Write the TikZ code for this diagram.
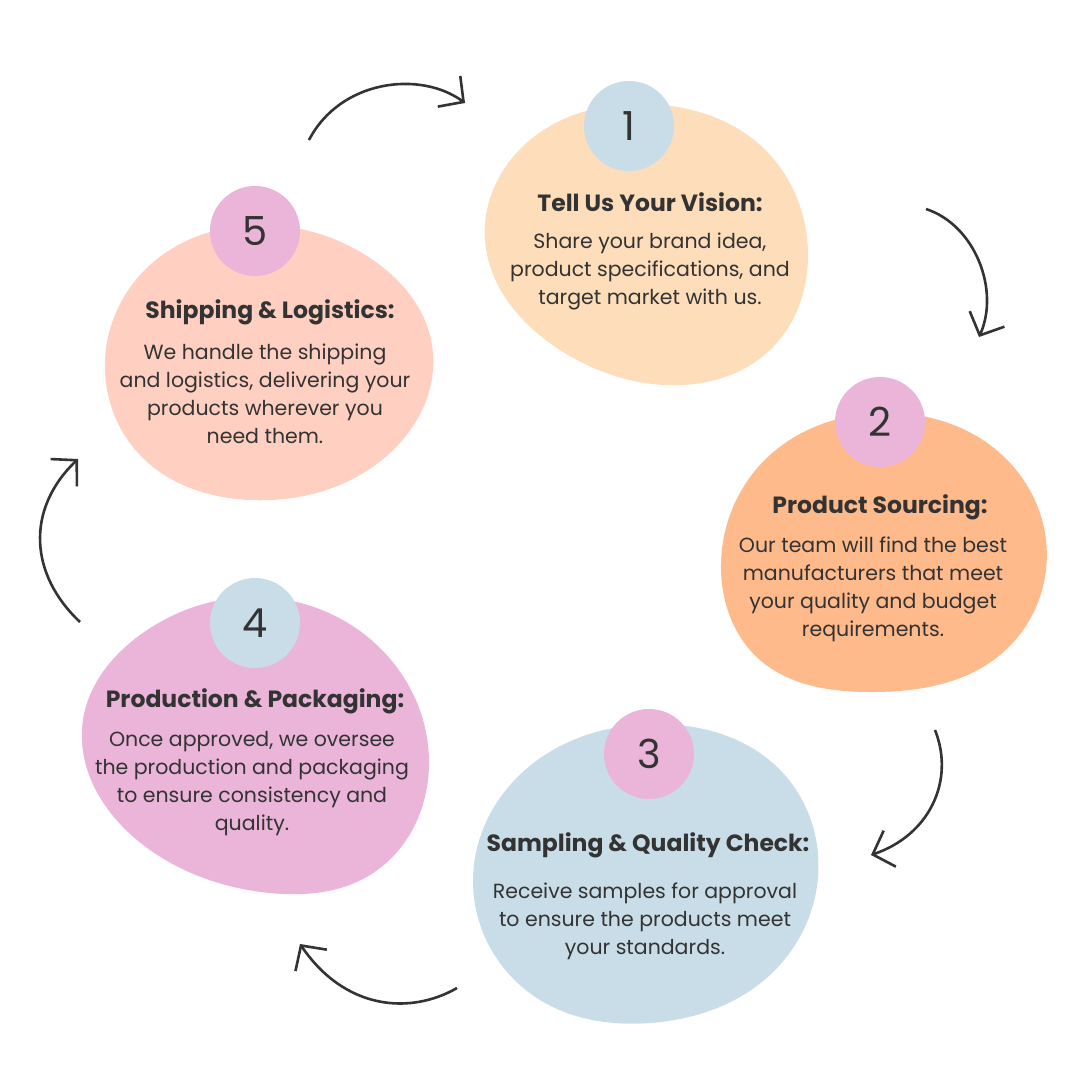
\documentclass[tikz,border=0pt]{standalone}
\usepackage{fontspec}
\setmainfont{Poppins}
\usetikzlibrary{arrows.meta,hobby}
\definecolor{ink}{HTML}{333333}
\definecolor{peach}{HTML}{FDDDBA}
\definecolor{apricot}{HTML}{FFBA8C}
\definecolor{skyblue}{HTML}{C9DDE8}
\definecolor{orchid}{HTML}{EAB5D9}
\definecolor{salmon}{HTML}{FFD0C1}
\begin{document}
\begin{tikzpicture}[x=1pt,y=-1pt]
	\tikzstyle{Num} = [circle, minimum size=90, inner sep=0pt, text=ink, font=\fontsize{40}{40}\selectfont]
	\tikzstyle{Title} = [text=ink, font=\bfseries\fontsize{23.5}{26}\selectfont]
	\tikzstyle{Desc} = [align=center, text=ink, font=\fontsize{20.5}{28}\selectfont]
	\tikzstyle{Flow} = [draw=ink, line width=2.6pt, -{Straight Barb[length=18pt,width=38pt]}]
	\fill[white] (0,0) rectangle (1080,1080);
	% blobs
	\fill[peach] plot[closed hobby] coordinates {(650,104) (760,145) (808,255) (770,350) (665,385) (560,350) (485,240) (530,140)};
	\fill[apricot] plot[closed hobby] coordinates {(880,413) (990,445) (1046,540) (1000,655) (870,692) (760,660) (721,570) (770,455)};
	\fill[skyblue] plot[closed hobby] coordinates {(660,724) (775,765) (817,845) (770,975) (650,1023) (540,1000) (473,880) (525,770)};
	\fill[orchid] plot[closed hobby] coordinates {(255,597) (380,648) (428,745) (370,875) (270,893) (150,850) (83,720) (140,635)};
	\fill[salmon] plot[closed hobby] coordinates {(255,225) (370,258) (432,345) (360,475) (250,500) (145,460) (105,360) (150,265)};
	% numbers
	\node (N1) at (629,126) [Num, fill=skyblue] {1};
	\node (N2) at (880,422) [Num, fill=orchid] {2};
	\node (N3) at (649,754) [Num, fill=orchid] {3};
	\node (N4) at (255,623) [Num, fill=skyblue] {4};
	\node (N5) at (255,231) [Num, fill=orchid] {5};
	% texts
	\node (T1) at (650,202) [Title] {Tell Us Your Vision:};
	\node (D1) at (650,271) [Desc] {Share your brand idea,\\product specifications, and\\target market with us.};
	\node (T2) at (880,507) [Title] {Product Sourcing:};
	\node (D2) at (873,589) [Desc] {Our team will find the best\\manufacturers that meet\\your quality and budget\\requirements.};
	\node (T3) at (648,845) [Title] {Sampling \& Quality Check:};
	\node (D3) at (645,921) [Desc] {Receive samples for approval\\to ensure the products meet\\your standards.};
	\node (T4) at (255,701) [Title] {Production \& Packaging:};
	\node (D4) at (252,784) [Desc] {Once approved, we oversee\\the production and packaging\\to ensure consistency and\\quality.};
	\node (T5) at (270,312) [Title] {Shipping \& Logistics:};
	\node (D5) at (265,394) [Desc] {We handle the shipping\\and logistics, delivering your\\products wherever you\\need them.};
	% arrows
	\coordinate (a1s) at (309,140);
	\coordinate (a1e) at (465,103);
	\coordinate (a2s) at (926,209);
	\coordinate (a2e) at (979,337);
	\coordinate (a3s) at (935,730);
	\coordinate (a3e) at (871,855);
	\coordinate (a4s) at (457,988);
	\coordinate (a4e) at (300,944);
	\coordinate (a5s) at (80,622);
	\coordinate (a5e) at (78,459);
	\draw[Flow] (a1s) .. controls (340,80) and (420,70) .. (a1e);
	\draw[Flow] (a2s) .. controls (975,225) and (1000,290) .. (a2e);
	\draw[Flow] (a3s) .. controls (955,780) and (930,835) .. (a3e);
	\draw[Flow] (a4s) .. controls (410,1015) and (345,1010) .. (a4e);
	\draw[Flow] (a5s) .. controls (30,575) and (25,510) .. (a5e);
\end{tikzpicture}
\end{document}
